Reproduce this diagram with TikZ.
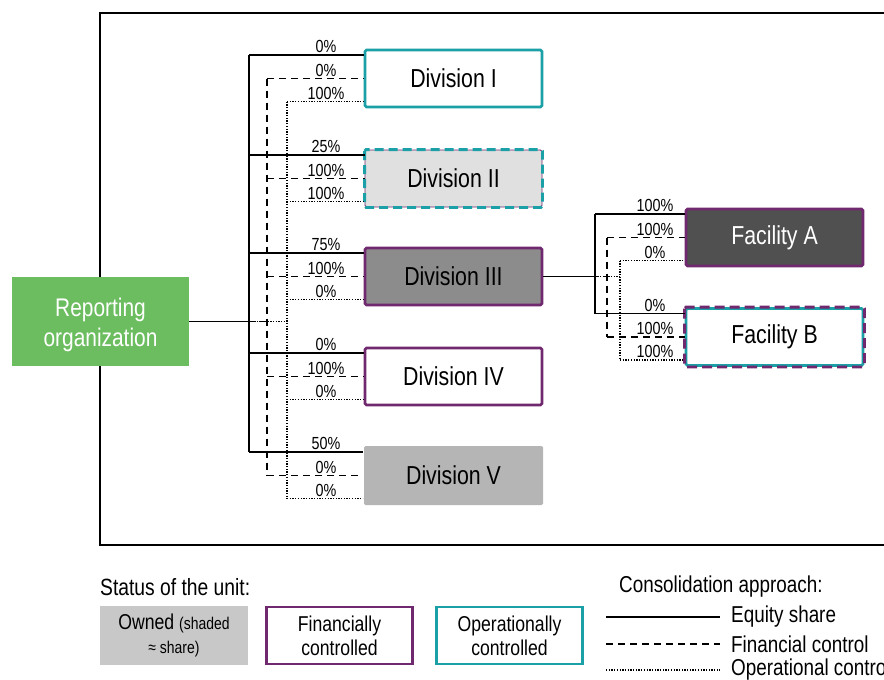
\documentclass[tikz,border=0pt]{standalone}
\usepackage{fontspec}
\setmainfont{Liberation Sans}[FakeStretch=0.82]
\usetikzlibrary{calc}
\definecolor{teal1}{RGB}{26,160,166}
\definecolor{purp}{RGB}{112,40,110}
\definecolor{grn}{RGB}{108,189,95}
\definecolor{gII}{RGB}{224,224,224}
\definecolor{gIII}{RGB}{140,140,140}
\definecolor{gV}{RGB}{181,181,181}
\definecolor{gFA}{RGB}{80,80,80}
\definecolor{gL}{RGB}{200,200,200}
\begin{document}
\begin{tikzpicture}[x=1pt,y=-1pt,
 box/.style={minimum width=177pt, minimum height=57pt, inner sep=0pt, line width=2.8pt, rounded corners=1.5pt, font=\fontsize{26}{28}\selectfont},
 eq/.style={line width=1.8pt},
 fc/.style={line width=1.7pt, dash pattern=on 7pt off 5pt},
 oc/.style={line width=1.4pt, dash pattern=on 1.3pt off 1.4pt},
 lbl/.style={font=\fontsize{17.5}{18}\selectfont, inner sep=0pt, anchor=base},
 leg/.style={font=\fontsize{23}{24}\selectfont, inner sep=0pt, anchor=west},
 legbox/.style={minimum width=146pt, minimum height=57pt, inner sep=0pt, line width=2.8pt, align=center, font=\fontsize{21.5}{24}\selectfont},
]
\useasboundingbox (0,0) rectangle (884,680);
\draw[line width=1.6pt] (100,13) rectangle (950,545);

% nodes
\node[fill=grn, minimum width=177pt, minimum height=89pt, inner sep=0pt] (org) at (100.5,321.5) {};
\node[text=white, inner sep=0pt, align=center, font=\fontsize{25.5}{30}\selectfont] (orgtxt) at ($(org.center)+(0,3)$) {Reporting\\organization};
\node[box, draw=teal1] (d1) at (453.5,78.5) {Division I};
\node[box, draw=purp, line width=0.8pt, fill=gII] (d2) at (453.5,178.5) {Division II};
\draw[teal1, line width=2.8pt, dash pattern=on 9pt off 5pt, rounded corners=1.5pt] (d2.north west) rectangle (d2.south east);
\node[box, draw=purp, fill=gIII] (d3) at (453.5,276.5) {Division III};
\node[box, draw=purp] (d4) at (453.5,376.5) {Division IV};
\node[box, fill=gV, minimum width=179pt, minimum height=59pt] (d5) at (453.5,475.5) {Division V};
\node[box, draw=purp, fill=gFA, text=white] (fa) at (774.5,237.5) {Facility A};
\node[box, draw=teal1] (fb) at (774.5,337) {Facility B};
\draw[purp, line width=2.8pt, dash pattern=on 10pt off 5pt, rounded corners=1.5pt] (fb.north west) rectangle (fb.south east);

% trunk x positions
\coordinate (xe) at (249,0);
\coordinate (xf) at (267,0);
\coordinate (xo) at (287,0);
\coordinate (lx) at (326,0);
\coordinate (fxe) at (595,0);
\coordinate (fxf) at (607,0);
\coordinate (fxo) at (620,0);
\coordinate (flx) at (655,0);

\foreach \n/\a/\b/\c in {d1/0/0/100, d2/25/100/100, d3/75/100/0, d4/0/100/0, d5/50/0/0}{
  \coordinate (\n e) at ($(\n.west)+(0,-23.5)$);
  \coordinate (\n f) at (\n.west);
  \coordinate (\n o) at ($(\n.west)+(0,23)$);
  \draw[eq] (\n e -| xe) -- (\n e);
  \draw[fc] (\n f -| xf) -- (\n f);
  \draw[oc] (\n o -| xo) -- (\n o);
  \node[lbl] (\n la) at ($(\n e -| lx)+(0,-2.5)$) {\a\%};
  \node[lbl] (\n lb) at ($(\n f -| lx)+(0,-2.5)$) {\b\%};
  \node[lbl] (\n lc) at ($(\n o -| lx)+(0,-2.5)$) {\c\%};
}
\draw[eq] (d1e -| xe) -- (d5e -| xe);
\draw[fc] (d1f -| xf) -- (d5f -| xf);
\draw[oc] (d1o -| xo) -- (d5o -| xo);
\draw[eq] (org.east) -- (org.east -| xe);
\draw[fc] (org.east) -- (org.east -| xf);
\draw[oc] (org.east) -- (org.east -| xo);

\foreach \n/\a/\b/\c in {fa/100/100/0, fb/0/100/100}{
  \coordinate (\n e) at ($(\n.west)+(0,-23.5)$);
  \coordinate (\n f) at (\n.west);
  \coordinate (\n o) at ($(\n.west)+(0,23)$);
  \draw[eq] (\n e -| fxe) -- (\n e);
  \draw[fc] (\n f -| fxf) -- (\n f);
  \draw[oc] (\n o -| fxo) -- (\n o);
  \node[lbl] (\n la) at ($(\n e -| flx)+(0,-2.5)$) {\a\%};
  \node[lbl] (\n lb) at ($(\n f -| flx)+(0,-2.5)$) {\b\%};
  \node[lbl] (\n lc) at ($(\n o -| flx)+(0,-2.5)$) {\c\%};
}
\draw[eq] (fae -| fxe) -- (fbe -| fxe);
\draw[fc] (faf -| fxf) -- (fbf -| fxf);
\draw[oc] (fao -| fxo) -- (fbo -| fxo);
\draw[eq] (d3.east) -- (d3.east -| fxe);
\draw[fc] (d3.east) -- (d3.east -| fxf);
\draw[oc] (d3.east) -- (d3.east -| fxo);

% legend
\node[leg, font=\fontsize{23.5}{24}\selectfont] (st) at (100,587) {Status of the unit:};
\node[legbox, fill=gL, minimum width=148pt, minimum height=59pt, line width=0pt] (lown) at (174,635.5) {Owned {\fontsize{17}{23}\selectfont (shaded}\\{\fontsize{17}{23}\selectfont ≈ share)}};
\node[legbox, draw=purp] (lfin) at (339.5,635.5) {Financially\\controlled};
\node[legbox, draw=teal1] (lop) at (509.5,635.5) {Operationally\\controlled};

\node[leg] (ca) at (619,587) {Consolidation approach:};
\coordinate (l1a) at (606,617); \coordinate (l1b) at (720,617);
\coordinate (l2a) at (606,644); \coordinate (l2b) at (720,644);
\coordinate (l3a) at (606,670); \coordinate (l3b) at (720,670);
\draw[eq] (l1a) -- (l1b);
\draw[fc] (l2a) -- (l2b);
\draw[oc] (l3a) -- (l3b);
\node[leg] (t1) at ($(l1b)+(11,0)$) {Equity share};
\node[leg] (t2) at ($(l2b)+(11,0)$) {Financial control};
\node[leg] (t3) at ($(l3b)+(11,0)$) {Operational control};
\end{tikzpicture}
\end{document}
